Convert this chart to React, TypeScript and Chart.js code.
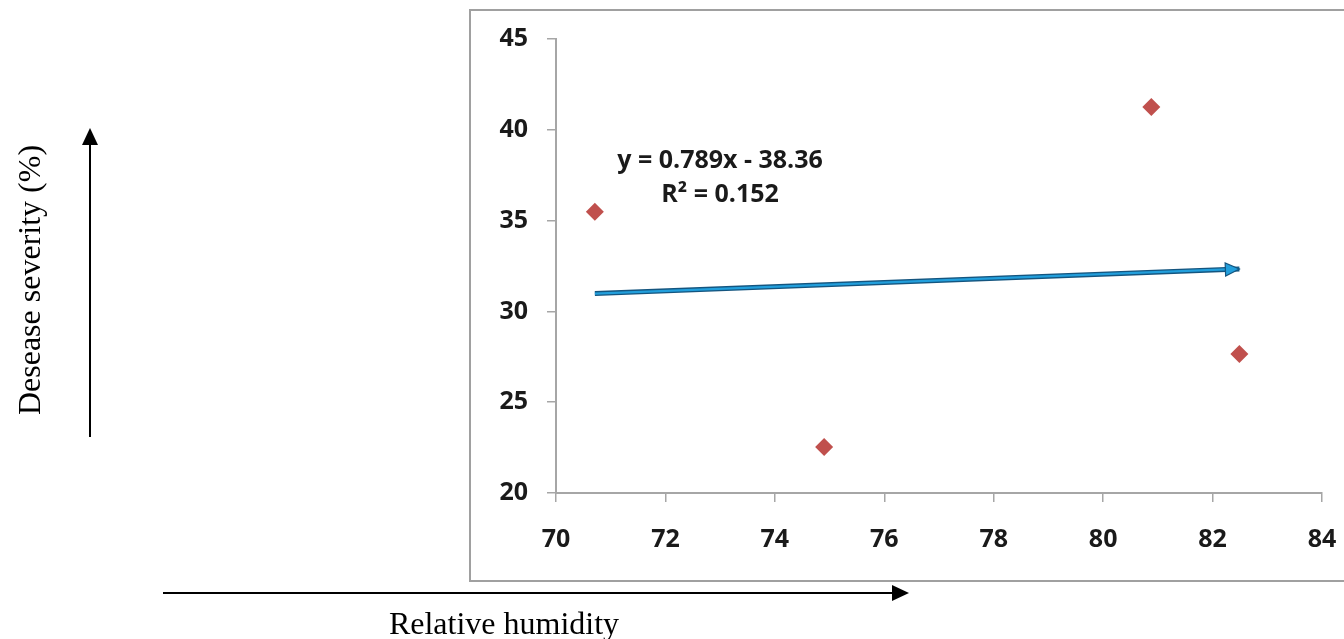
import React, { useEffect, useRef } from "react";
import { Chart, registerables } from "chart.js";

Chart.register(...registerables);

// ---- data ----
const humidity = [70.71, 74.9, 80.88, 82.49];
const severity = [35.49, 22.53, 41.26, 27.65];
const xRange = [70, 84];
const yRange = [20, 45];
const xStep = 2;
const yStep = 5;
const equationLines = ["y = 0.789x - 38.36", "R\u00B2 = 0.152"];
const yAxisTitle = "Desease severity (%)";
const xAxisTitle = "Relative humidity";

// least-squares trend line through the points
function linearFit(xs: number[], ys: number[]) {
  const n = xs.length;
  const mx = xs.reduce((a, b) => a + b, 0) / n;
  const my = ys.reduce((a, b) => a + b, 0) / n;
  let sxy = 0;
  let sxx = 0;
  for (let i = 0; i < n; i++) {
    sxy += (xs[i] - mx) * (ys[i] - my);
    sxx += (xs[i] - mx) * (xs[i] - mx);
  }
  const slope = sxy / sxx;
  return { slope, intercept: my - slope * mx };
}

const fit = linearFit(humidity, severity);
const xMin = Math.min(...humidity);
const xMax = Math.max(...humidity);
const trendPoints = [
  { x: xMin, y: fit.intercept + fit.slope * xMin },
  { x: xMax, y: fit.intercept + fit.slope * xMax },
];

const TEXT = "#1a1a1a";
const AXIS = "#a6a6a6";

const decorPlugin = {
  id: "decor",
  beforeDraw(chart: any) {
    const { ctx, chartArea } = chart;
    ctx.save();
    ctx.fillStyle = "#ffffff";
    ctx.fillRect(0, 0, chart.width, chart.height);
    ctx.strokeStyle = "#a0a0a0";
    ctx.lineWidth = 2;
    ctx.strokeRect(chartArea.left - 86, chartArea.top - 29, 1000, chartArea.bottom - chartArea.top + 117);
    ctx.restore();
  },
  afterDatasetsDraw(chart: any) {
    const meta = chart.getDatasetMeta(1);
    const pts = meta.data;
    if (!pts || pts.length < 2) return;
    const p0 = pts[pts.length - 2];
    const p1 = pts[pts.length - 1];
    const ang = Math.atan2(p1.y - p0.y, p1.x - p0.x);
    const { ctx } = chart;
    const len = 14;
    const half = 6.5;
    const tx = p1.x;
    const ty = p1.y;
    const bx = tx - len * Math.cos(ang);
    const by = ty - len * Math.sin(ang);
    ctx.save();
    ctx.beginPath();
    ctx.moveTo(tx, ty);
    ctx.lineTo(bx - half * Math.sin(ang), by + half * Math.cos(ang));
    ctx.lineTo(bx + half * Math.sin(ang), by - half * Math.cos(ang));
    ctx.closePath();
    ctx.fillStyle = "#229fdc";
    ctx.fill();
    ctx.strokeStyle = "#14557f";
    ctx.lineWidth = 1.2;
    ctx.stroke();
    ctx.restore();
  },
  afterDraw(chart: any) {
    const { ctx } = chart;
    ctx.save();
    // equation label
    ctx.fillStyle = TEXT;
    ctx.font = "bold 25px 'Open Sans'";
    ctx.textAlign = "center";
    ctx.textBaseline = "middle";
    ctx.fillText(equationLines[0], 720, 161);
    ctx.fillText(equationLines[1], 720, 195);

    // outside axis titles (Times-like)
    ctx.fillStyle = "#000";
    ctx.font = "32px 'Liberation Serif'";
    ctx.textAlign = "center";
    ctx.textBaseline = "alphabetic";
    ctx.fillText(xAxisTitle, 504, 634);

    ctx.save();
    ctx.translate(40, 280);
    ctx.rotate(-Math.PI / 2);
    ctx.fillText(yAxisTitle, 0, 0);
    ctx.restore();

    // arrows
    ctx.strokeStyle = "#000";
    ctx.fillStyle = "#000";
    ctx.lineWidth = 2;
    // vertical
    ctx.beginPath();
    ctx.moveTo(90, 437);
    ctx.lineTo(90, 140);
    ctx.stroke();
    ctx.beginPath();
    ctx.moveTo(90, 128);
    ctx.lineTo(82, 145);
    ctx.lineTo(98, 145);
    ctx.closePath();
    ctx.fill();
    // horizontal
    ctx.beginPath();
    ctx.moveTo(163, 593);
    ctx.lineTo(895, 593);
    ctx.stroke();
    ctx.beginPath();
    ctx.moveTo(909, 593);
    ctx.lineTo(892, 585);
    ctx.lineTo(892, 601);
    ctx.closePath();
    ctx.fill();
    ctx.restore();
  },
};

export default function App() {
  const ref = useRef<HTMLCanvasElement | null>(null);

  useEffect(() => {
    if (!ref.current) return;
    Chart.defaults.font.family = "'Open Sans'";
    const chart = new Chart(ref.current, {
      type: "scatter",
      data: {
        datasets: [
          {
            label: "trend-outline",
            data: trendPoints,
            showLine: true,
            borderColor: "#14557f",
            borderWidth: 5,
            pointRadius: 0,
            order: 3,
          } as any,
          {
            label: "trend",
            data: trendPoints,
            showLine: true,
            borderColor: "#229fdc",
            borderWidth: 2.2,
            pointRadius: 0,
            order: 2,
          } as any,
          {
            label: "Desease severity",
            data: humidity.map((x, i) => ({ x, y: severity[i] })),
            pointStyle: "rectRot",
            pointRadius: 9,
            pointHoverRadius: 9,
            backgroundColor: "#c0504d",
            borderColor: "#c0504d",
            borderWidth: 0,
            order: 1,
          },
        ],
      },
      options: {
        responsive: false,
        animation: false,
        devicePixelRatio: 1,
        layout: { padding: { left: 476, right: 22, top: 39, bottom: 86 } },
        plugins: {
          legend: { display: false },
          tooltip: { enabled: false },
          title: { display: false },
        },
        scales: {
          x: {
            type: "linear",
            min: xRange[0],
            max: xRange[1],
            ticks: {
              stepSize: xStep,
              color: TEXT,
              font: { size: 25, weight: "bold" },
              padding: 23,
            },
            grid: { drawOnChartArea: false, drawTicks: true, tickLength: 9, color: AXIS, lineWidth: 1.5 },
            border: { color: AXIS, width: 2 },
            afterFit: (s: any) => {
              s.height = 60;
              s.paddingRight = 0;
              s.paddingLeft = 0;
            },
          },
          y: {
            type: "linear",
            min: yRange[0],
            max: yRange[1],
            ticks: {
              stepSize: yStep,
              color: TEXT,
              font: { size: 25, weight: "bold" },
              padding: 19,
            },
            grid: { drawOnChartArea: false, drawTicks: true, tickLength: 9, color: AXIS, lineWidth: 1.5 },
            border: { color: AXIS, width: 2 },
            afterFit: (s: any) => {
              s.width = 80;
              s.paddingTop = 0;
              s.paddingBottom = 0;
            },
          },
        },
      } as any,
      plugins: [decorPlugin],
    });
    return () => chart.destroy();
  }, []);

  return (
    <div style={{ position: "absolute", left: 0, top: 0, width: 1344, height: 639 }}>
      <canvas ref={ref} width={1344} height={639} style={{ display: "block", width: 1344, height: 639 }} />
    </div>
  );
}
